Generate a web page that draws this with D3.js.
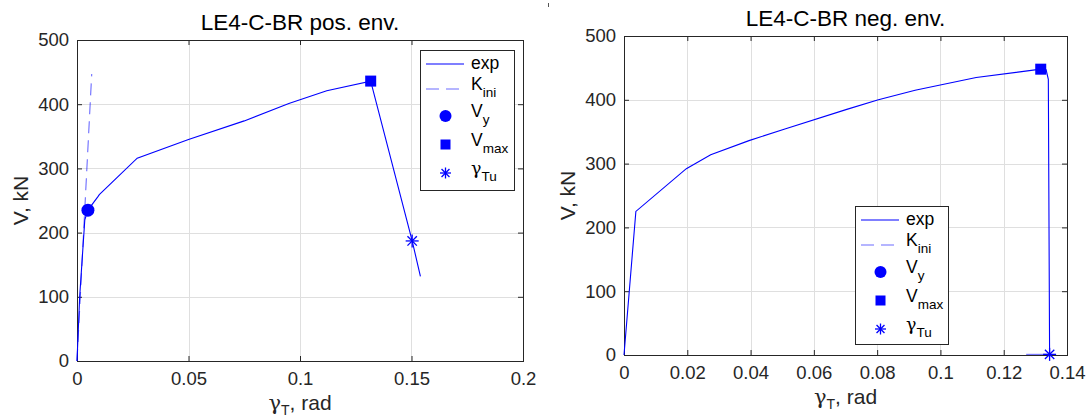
<!DOCTYPE html>
<html>
<head>
<meta charset="utf-8">
<script src="https://cdn.jsdelivr.net/npm/d3@7"></script>
<style>
 body { margin: 0; background: #fff; }
 text { font-family: 'Liberation Sans', Arial, Helvetica, sans-serif; fill: #262626; }
 .greek { font-family: 'DejaVu Serif', serif; }
</style>
</head>
<body>
<svg id="fig" width="1086" height="418"></svg>
<script>
// ---- data ----
// positive envelope
var posExp = [[0, 0], [0.0012, 100], [0.0035, 220], [0.0049, 235], [0.0094, 256], [0.0100, 259],
 [0.027, 316], [0.050, 345], [0.075, 374], [0.095, 401], [0.112, 421], [0.1317, 436],
 [0.1503, 187], [0.154, 132]];
var posKini = [[0, 0], [0.0066, 447]];
var posVy = [[0.0049, 235]];
var posVmax = [[0.1317, 436]];
var posGammaTu = [[0.1503, 187]];
var posXTicks = [0, 0.05, 0.1, 0.15, 0.2];
var posXLabels = ['0', '0.05', '0.1', '0.15', '0.2'];

// negative envelope (plotted as absolute values)
var negExp = [[0, 0], [0.00375, 225], [0.0197, 292], [0.0274, 314], [0.0395, 336], [0.0506, 354],
 [0.0704, 385], [0.0804, 400], [0.092, 415], [0.1113, 435], [0.1317, 448], [0.1334, 447],
 [0.1341, 432], [0.1345, 0]];
var negKini = [[0.1271, 1], [0.1345, 1]];
var negVy = [];
var negVmax = [[0.1317, 448]];
var negGammaTu = [[0.1345, 1]];
var negXTicks = [0, 0.02, 0.04, 0.06, 0.08, 0.1, 0.12, 0.14];
var negXLabels = ['0', '0.02', '0.04', '0.06', '0.08', '0.1', '0.12', '0.14'];

var yTicks = [0, 100, 200, 300, 400, 500];
var yLabels = ['0', '100', '200', '300', '400', '500'];

var titles = ['LE4-C-BR pos. env.', 'LE4-C-BR neg. env.'];

// ---- graphical parameters ----
var graphicAtt = {
 blue: '#0000ff',
 kiniColor: 'rgba(0, 0, 255, 0.58)',
 axisColor: '#262626',
 gridColor: '#dfdfdf',
 tickFont: 18.5,
 labelFont: 21,
 titleFont: 22.5,
 legendFont: 17.5,
 subFont: 13.5,
 tickLen: 5
};

var svg = d3.select('#fig');

/* draws one panel: box, grid, ticks, curves, markers and legend
 - box : pixel rectangle of the axes
 - panel : object with data arrays and legend placement */
function drawPanel(box, panel)
{
 var x = d3.scaleLinear().domain([0, panel.xMax]).range([box.x0, box.x1]);
 var y = d3.scaleLinear().domain([0, 500]).range([box.y1, box.y0]);
 var g = svg.append('g');

 // grid
 g.selectAll('.gx').data(panel.xTicks).enter().append('line')
  .attr('x1', function(d){ return Math.round(x(d)) + 0.5; })
  .attr('x2', function(d){ return Math.round(x(d)) + 0.5; })
  .attr('y1', box.y0).attr('y2', box.y1)
  .style('stroke', graphicAtt.gridColor).style('stroke-width', '1px');
 g.selectAll('.gy').data(yTicks).enter().append('line')
  .attr('y1', function(d){ return Math.round(y(d)) + 0.5; })
  .attr('y2', function(d){ return Math.round(y(d)) + 0.5; })
  .attr('x1', box.x0).attr('x2', box.x1)
  .style('stroke', graphicAtt.gridColor).style('stroke-width', '1px');

 // axes through d3.axis, ticks pointing inward, on all four sides
 var xb = d3.axisBottom(x).tickValues(panel.xTicks).tickSizeInner(-graphicAtt.tickLen).tickSizeOuter(0)
  .tickFormat(function(d, i){ return panel.xLabels[i]; });
 var xt = d3.axisTop(x).tickValues(panel.xTicks).tickSizeInner(-graphicAtt.tickLen).tickSizeOuter(0)
  .tickFormat('');
 var yl = d3.axisLeft(y).tickValues(yTicks).tickSizeInner(-graphicAtt.tickLen).tickSizeOuter(0)
  .tickFormat(function(d, i){ return yLabels[i]; });
 var yr = d3.axisRight(y).tickValues(yTicks).tickSizeInner(-graphicAtt.tickLen).tickSizeOuter(0)
  .tickFormat('');

 var axB = g.append('g').attr('transform', 'translate(0,' + box.y1 + ')').call(xb);
 var axT = g.append('g').attr('transform', 'translate(0,' + box.y0 + ')').call(xt);
 var axL = g.append('g').attr('transform', 'translate(' + box.x0 + ',0)').call(yl);
 var axR = g.append('g').attr('transform', 'translate(' + box.x1 + ',0)').call(yr);
 [axB, axT, axL, axR].forEach(function(a){
  a.selectAll('path').remove();
  a.selectAll('line').style('stroke', graphicAtt.axisColor);
  a.selectAll('text').style('font-family', null).attr('fill', graphicAtt.axisColor)
   .attr('font-size', graphicAtt.tickFont);
 });
 axB.selectAll('text').attr('y', 11).attr('dy', '0.71em');
 axL.selectAll('text').attr('x', -8);

 // box outline
 g.append('rect')
  .attr('x', box.x0 + 0.5).attr('y', box.y0 + 0.5)
  .attr('width', box.x1 - box.x0).attr('height', box.y1 - box.y0)
  .style('fill', 'none').style('stroke', graphicAtt.axisColor).style('stroke-width', '1px');

 // curves
 var line = d3.line().x(function(d){ return x(d[0]); }).y(function(d){ return y(d[1]); });
 g.append('path').datum(panel.exp).attr('d', line)
  .style('fill', 'none').style('stroke', graphicAtt.blue).style('stroke-width', '1.1px');
 g.append('path').datum(panel.kini).attr('d', line)
  .style('fill', 'none').style('stroke', graphicAtt.kiniColor).style('stroke-width', '1.1px')
  .style('stroke-dasharray', panel.kiniDash);

 // markers
 panel.vy.forEach(function(d){ drawMarker(g, 'circle', x(d[0]), y(d[1]), 6.5); });
 panel.vmax.forEach(function(d){ drawMarker(g, 'square', x(d[0]), y(d[1]), 5.5); });
 panel.gtu.forEach(function(d){ drawMarker(g, 'star', x(d[0]), y(d[1]), 6.5); });

 // title and labels
 g.append('text')
  .attr('x', (box.x0 + box.x1) / 2).attr('y', box.y0 - 10)
  .attr('text-anchor', 'middle').attr('font-size', graphicAtt.titleFont)
  .style('fill', '#000').text(panel.title);

 var xl = g.append('text')
  .attr('x', (box.x0 + box.x1) / 2).attr('y', box.y1 + 49)
  .attr('text-anchor', 'middle').attr('font-size', graphicAtt.labelFont);
 xl.append('tspan').attr('class', 'greek').text('\u03b3');
 xl.append('tspan').attr('dy', 5).attr('font-size', 14).text('T');
 xl.append('tspan').attr('dy', -5).text(', rad');

 g.append('text')
  .attr('transform', 'translate(' + (box.x0 - 49) + ',' + ((box.y0 + box.y1) / 2) + ') rotate(-90)')
  .attr('text-anchor', 'middle').attr('font-size', graphicAtt.labelFont)
  .text('V, kN');

 drawLegend(g, panel.legend);
}

/* draws a marker of given type centered at cx, cy */
function drawMarker(g, type, cx, cy, r)
{
 if(type == 'circle')
 {
  g.append('circle').attr('cx', cx).attr('cy', cy).attr('r', r)
   .style('fill', graphicAtt.blue);
 }
 else if(type == 'square')
 {
  g.append('rect').attr('x', cx - r).attr('y', cy - r)
   .attr('width', 2 * r).attr('height', 2 * r)
   .style('fill', graphicAtt.blue);
 }
 else
 {
  var d = r * 0.72;
  var segs = [[0, -r, 0, r], [-r, 0, r, 0], [-d, -d, d, d], [-d, d, d, -d]];
  segs.forEach(function(s){
   g.append('line')
    .attr('x1', cx + s[0]).attr('y1', cy + s[1])
    .attr('x2', cx + s[2]).attr('y2', cy + s[3])
    .style('stroke', graphicAtt.blue).style('stroke-width', '1.3px');
  });
 }
}

/* draws legend box with five entries */
function drawLegend(g, leg)
{
 var lg = g.append('g');
 lg.append('rect')
  .attr('x', leg.x + 0.5).attr('y', leg.y + 0.5)
  .attr('width', leg.w).attr('height', leg.h)
  .style('fill', '#fff').style('stroke', graphicAtt.axisColor).style('stroke-width', '1px');

 var rows = [14, 39, 66, 94.5, 123];
 var textX = leg.x + 51;

 // exp
 lg.append('line').attr('x1', leg.x + 6).attr('x2', leg.x + 44)
  .attr('y1', leg.y + rows[0]).attr('y2', leg.y + rows[0])
  .style('stroke', graphicAtt.blue).style('stroke-width', '1.1px');
 lg.append('text').attr('x', textX).attr('y', leg.y + rows[0] + 5)
  .attr('font-size', graphicAtt.legendFont).style('fill', '#000').text('exp');

 // Kini
 lg.append('line').attr('x1', leg.x + 6).attr('x2', leg.x + 44)
  .attr('y1', leg.y + rows[1]).attr('y2', leg.y + rows[1])
  .style('stroke', graphicAtt.kiniColor).style('stroke-width', '1.1px')
  .style('stroke-dasharray', '13,7');
 subText(lg, textX, leg.y + rows[1] + 1, 'K', 'ini', false);

 drawMarker(lg, 'circle', leg.x + 25.5, leg.y + rows[2], 6);
 subText(lg, textX, leg.y + rows[2] + 1, 'V', 'y', false);

 drawMarker(lg, 'square', leg.x + 25.5, leg.y + rows[3], 5);
 subText(lg, textX, leg.y + rows[3] + 1, 'V', 'max', false);

 drawMarker(lg, 'star', leg.x + 25.5, leg.y + rows[4], 5.5);
 subText(lg, textX, leg.y + rows[4] + 1, '\u03b3', 'Tu', true);
}

/* text with a subscript */
function subText(g, x, y, main, sub, greek)
{
 var t = g.append('text').attr('x', x).attr('y', y)
  .attr('font-size', graphicAtt.legendFont).style('fill', '#000');
 var m = t.append('tspan').text(main);
 if(greek) { m.attr('class', 'greek'); }
 t.append('tspan').attr('dy', 7).attr('font-size', graphicAtt.subFont).text(sub);
}

drawPanel({x0: 77, x1: 523, y0: 40, y1: 361}, {
 xMax: 0.2, xTicks: posXTicks, xLabels: posXLabels, title: titles[0],
 exp: posExp, kini: posKini, kiniDash: '12,7', vy: posVy, vmax: posVmax, gtu: posGammaTu,
 legend: {x: 420, y: 50, w: 94, h: 140}
});

drawPanel({x0: 624, x1: 1067, y0: 36, y1: 355}, {
 xMax: 0.14, xTicks: negXTicks, xLabels: negXLabels, title: titles[1],
 exp: negExp, kini: negKini, kiniDash: null, vy: negVy, vmax: negVmax, gtu: negGammaTu,
 legend: {x: 855, y: 206, w: 93, h: 138}
});

// small stray mark at the top of the figure
svg.append('line').attr('x1', 548.5).attr('x2', 548.5).attr('y1', 3).attr('y2', 7)
 .style('stroke', '#555').style('stroke-width', '1px');
</script>
</body>
</html>
